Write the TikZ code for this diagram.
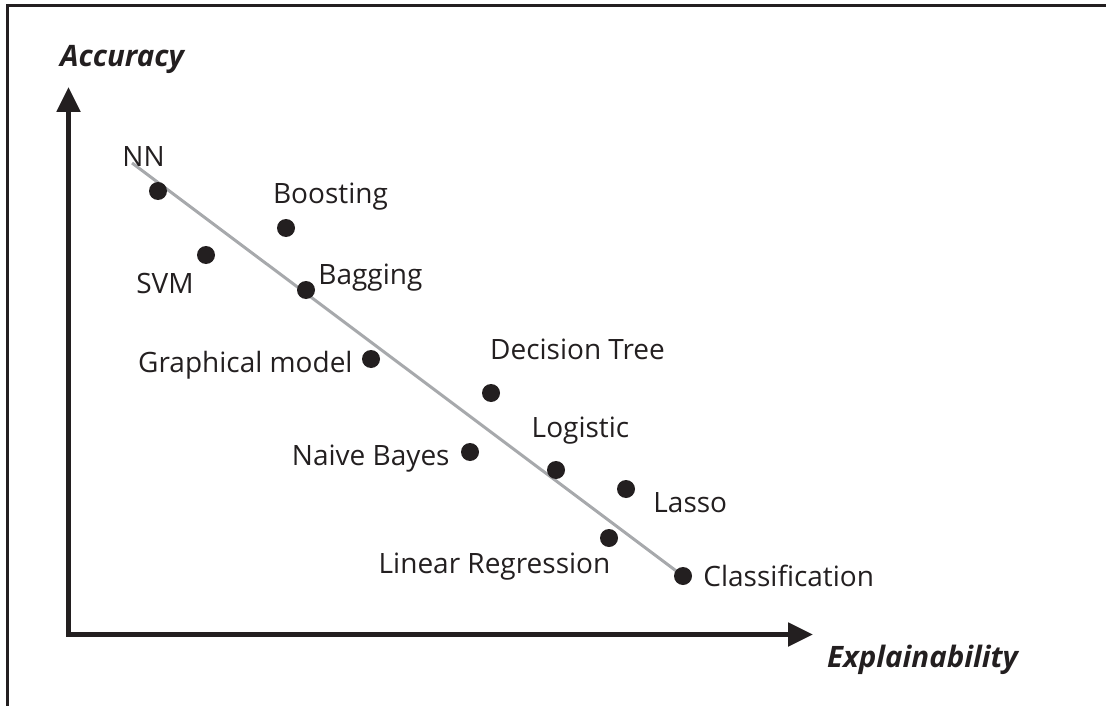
\documentclass[tikz,border=0pt]{standalone}
\usepackage{fontspec}
\setmainfont{Open Sans}
\usetikzlibrary{arrows.meta, positioning, backgrounds}
\definecolor{inkblack}{HTML}{231F20}
\definecolor{trendgray}{HTML}{A7A9AC}

\begin{document}
\begin{tikzpicture}[
        x=1pt, y=-1pt,
        model/.style={circle, fill=inkblack, minimum size=18pt, inner sep=0pt},
        modelname/.style={inner sep=0pt, text=inkblack, font=\fontsize{28}{30}\selectfont},
        axisname/.style={inner sep=0pt, text=inkblack, font=\fontsize{29.5}{31}\selectfont\bfseries\itshape},
        axis/.style={line width=5pt, inkblack, line join=miter, {Triangle[length=25pt,width=23pt]}-{Triangle[length=25pt,width=23pt]}},
        trend/.style={line width=3pt, trendgray},
        borderline/.style={line width=3pt, inkblack}
    ]
        \useasboundingbox (0,0) rectangle (1106,706);
        \draw[borderline] (7.5,706) -- (7.5,5.5) -- (1106,5.5);

        % axes
        \coordinate (origin) at (68.5,634.5);
        \coordinate (ytip) at (68.5,87);
        \coordinate (xtip) at (813,634.5);
        \draw[axis] (ytip) -- (origin) -- (xtip);
        \node[axisname, above=13pt of ytip, xshift=53.5pt] (accuracy) {Accuracy};
        \node[axisname, right=14pt of xtip, yshift=-25.5pt] (explain) {Explainability};

        % models
        \node[model] (nn) at (158,191) {};
        \node[model] (boost) at (286,228) {};
        \node[model] (svm) at (206,255) {};
        \node[model] (bag) at (306,290) {};
        \node[model] (graph) at (371,359) {};
        \node[model] (tree) at (491,393) {};
        \node[model] (bayes) at (470,452) {};
        \node[model] (logit) at (556,470) {};
        \node[model] (lasso) at (626,489) {};
        \node[model] (linreg) at (609,538) {};
        \node[model] (classif) at (683,576) {};

        \node[modelname, above=15pt of nn, xshift=-14.5pt] (nnname) {NN};
        \node[modelname, above=8pt of boost, xshift=44.5pt] (boostname) {Boosting};
        \node[modelname, below=9pt of svm, xshift=-41pt] (svmname) {SVM};
        \node[modelname, right=3pt of bag, yshift=12pt] (bagname) {Bagging};
        \node[modelname, left=9pt of graph, yshift=-6.5pt] (graphname) {Graphical model};
        \node[modelname, above=24pt of tree, xshift=86.5pt] (treename) {Decision Tree};
        \node[modelname, left=11pt of bayes, yshift=-6.5pt] (bayesname) {Naive Bayes};
        \node[modelname, above=16pt of logit, xshift=24.5pt] (logitname) {Logistic};
        \node[modelname, right=18pt of lasso, yshift=-13.5pt] (lassoname) {Lasso};
        \node[modelname, below=6pt of linreg, xshift=-114.5pt] (linregname) {Linear Regression};
        \node[modelname, right=11pt of classif] (classifname) {Classification};

        \coordinate (trendstart) at (132,163);
        \begin{scope}[on background layer]
            \draw[trend] (trendstart) -- (classif.center);
        \end{scope}
    \end{tikzpicture}
\end{document}
